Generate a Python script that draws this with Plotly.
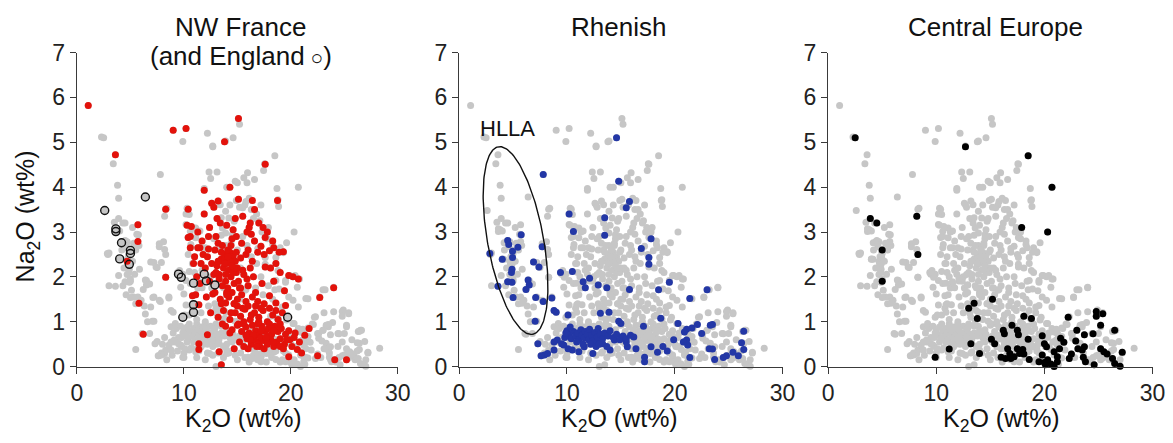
import numpy as np
import plotly.graph_objects as go

# ---------------- data (K2O wt%, Na2O wt%) ----------------
nw_france_k2o = [1.06, 3.6, 9.0, 10.2, 15.1, 13.8, 17.6, 14.3, 11.9, 8.3, 10.4, 5.7, 5.7, 4.7, 8.3, 5.8, 6.2,
    18.75, 15.1, 16.4, 12.6, 13.2, 24.0, 22.7, 20.7, 20.2, 19.8, 21.7, 21.3, 24.1, 25.2, 22.5, 19.8, 13.5, 13.3,
    11.4, 11.4, 12.2, 14.3, 14.7, 10.8, 11.4, 19.5, 19.4, 19.3,
    10.3, 10.7, 11.3, 12.4, 13.4, 14.0, 14.6, 16.1, 16.3, 17.0, 17.4, 17.8, 18.3,
    10.4, 11.7, 12.3, 13.2, 14.9, 15.4, 16.6, 16.9, 17.2, 17.6, 18.0, 18.4, 18.9, 10.6, 12.9,
    11.0, 11.8, 12.6, 13.1, 13.5, 13.8, 14.0, 14.3, 14.6, 14.8, 15.3, 15.8, 16.2, 17.6, 18.1, 13.7, 14.2, 12.2,
    11.2, 11.5, 12.8, 13.3, 13.9, 14.4, 14.7, 15.1, 15.6, 16.0, 16.5, 17.3, 18.4, 14.1, 13.6,
    11.1, 12.1, 12.7, 13.4, 13.9, 14.5, 15.0, 15.4, 15.8, 16.4, 16.9, 17.5, 18.0, 18.6, 14.2,
    12.5, 13.2, 13.7, 14.3, 14.8, 15.3, 15.7, 16.2, 16.6, 17.0, 17.4, 17.8, 18.3, 18.8, 19.2, 15.0, 16.0,
    13.9, 14.5, 15.0, 15.4, 15.8, 16.1, 16.4, 16.7, 17.0, 17.3, 17.6, 17.9, 18.2, 18.5, 18.8, 19.1, 19.5, 19.8, 16.9, 18.0,
    15.2, 15.6, 15.9, 16.3, 16.6, 17.1, 17.4, 17.8, 18.1, 18.4, 18.7, 19.0, 19.4, 20.1, 20.6, 21.0, 16.0, 17.0,
    10.9, 11.5, 12.0, 10.6, 11.9, 12.8, 13.1, 15.5, 16.6, 16.2,
    14.4, 14.9, 13.3, 14.0, 15.2, 16.7, 17.2, 17.7, 18.2, 16.4, 15.6, 14.7, 13.6, 16.9, 17.9, 19.0, 19.9, 20.4,
    13.0, 13.6, 14.1, 14.5, 15.0, 15.5, 16.0, 16.4, 13.3, 13.9, 14.6, 15.3, 15.9, 16.7, 14.0, 14.7, 15.5, 16.3,
    17.2, 18.0, 14.4, 13.5, 15.1, 15.6, 16.5, 17.2, 17.7, 18.4, 19.0, 19.6, 16.2, 16.8, 17.5, 18.3, 15.8, 17.0,
    18.6, 19.3, 20.3, 20.8, 12.9, 12.4, 11.6, 12.3, 11.3, 14.8, 15.9, 17.5, 18.6, 19.0,
    13.2, 13.8, 14.3, 14.7, 13.5, 14.1, 14.9, 13.0, 13.8, 14.5]
nw_france_na2o = [5.82, 4.72, 5.27, 5.31, 5.53, 5.01, 4.51, 4.0, 3.93, 3.51, 3.51, 3.16, 2.79, 2.35, 1.99, 1.41, 0.72,
    3.7, 3.73, 3.7, 3.64, 3.69, 1.76, 1.54, 1.95, 2.0, 2.03, 0.85, 0.7, 0.15, 0.15, 0.24, 0.22, 0.04, 0.33,
    0.38, 0.51, 0.71, 0.75, 0.40, 1.58, 1.38, 1.36, 1.69, 2.56,
    3.15, 3.12, 3.0, 3.1, 3.2, 3.15, 3.05, 3.1, 2.95, 3.2, 3.1, 3.0, 2.8,
    2.88, 2.8, 2.62, 2.75, 2.9, 2.75, 2.8, 2.55, 2.68, 2.88, 2.58, 2.65, 2.55, 2.65, 2.6,
    2.45, 2.5, 2.3, 2.25, 2.4, 2.5, 2.3, 2.55, 2.45, 2.35, 2.42, 2.5, 2.2, 2.22, 2.2, 2.2, 2.15, 2.45,
    2.0, 1.85, 2.05, 1.95, 1.9, 2.0, 1.85, 1.9, 2.05, 1.8, 2.0, 1.85, 1.9, 1.75, 1.8,
    1.6, 1.55, 1.62, 1.5, 1.42, 1.65, 1.5, 1.6, 1.45, 1.55, 1.45, 1.4, 1.58, 1.42, 1.55,
    1.2, 1.1, 1.25, 1.05, 1.2, 1.12, 1.28, 1.05, 1.2, 1.1, 1.25, 1.0, 1.15, 1.05, 1.2, 1.35, 1.35,
    0.9, 0.82, 0.92, 0.78, 0.88, 0.75, 0.92, 0.8, 0.7, 0.9, 0.78, 0.85, 0.72, 0.9, 0.78, 0.85, 0.72, 0.8, 0.95, 0.95,
    0.55, 0.45, 0.62, 0.5, 0.6, 0.45, 0.58, 0.5, 0.62, 0.45, 0.55, 0.62, 0.5, 0.45, 0.38, 0.3, 0.4, 0.55,
    2.3, 2.65, 2.2, 2.9, 3.4, 3.55, 3.3, 3.35, 3.5, 3.2,
    2.7, 2.1, 2.35, 1.65, 1.75, 1.35, 0.65, 0.62, 0.85, 0.68, 0.95, 1.4, 0.95, 0.5, 0.68, 0.45, 0.6, 0.75,
    2.9, 2.7, 2.6, 2.85, 2.2, 2.15, 2.6, 2.35, 2.05, 2.05, 2.1, 1.75, 1.95, 1.65, 1.6, 1.4, 1.3, 1.15,
    1.3, 1.3, 1.2, 1.4, 0.95, 1.0, 0.7, 0.8, 0.65, 0.8, 0.95, 0.6, 0.6, 0.45, 0.4, 0.55, 0.7, 1.0,
    1.25, 0.4, 0.65, 0.55, 1.65, 1.9, 2.3, 2.9, 2.65, 3.3, 3.0, 2.5, 2.3, 2.1,
    2.35, 2.4, 2.35, 2.2, 2.55, 2.45, 2.55, 2.1, 2.3, 2.25]

england_k2o = [2.6, 6.4, 3.64, 3.64, 4.17, 5.0, 5.0, 4.0, 4.9, 9.5, 9.75, 11.9, 12.1, 12.9, 10.9, 10.9, 10.9, 9.9, 19.7]
england_na2o = [3.48, 3.78, 3.07, 3.01, 2.76, 2.59, 2.52, 2.4, 2.28, 2.06, 1.99, 2.06, 1.91, 1.82, 1.86, 1.38, 1.21, 1.1, 1.1]

rhenish_k2o = [14.6, 7.8, 14.8, 15.8, 15.5, 10.2, 13.5, 10.6, 13.5, 17.8, 5.75, 16.9, 17.6, 17.6, 7.7, 4.5, 4.6, 5.45,
    2.85, 4.95, 4.0, 4.95, 6.9, 7.4, 4.9, 4.85, 4.5, 4.9, 6.4, 6.5, 3.6, 6.2, 5.0, 7.1, 7.8, 8.6, 7.05,
    9.4, 10.5, 11.5, 11.7, 12.1, 12.9, 13.7, 15.8, 19.5, 18.5, 23.0, 21.4, 8.8, 9.0, 10.1, 13.1, 13.9, 18.7,
    14.8, 15.0, 17.1, 20.3, 21.1, 20.9, 21.6, 22.1, 22.5, 23.5, 23.3, 26.4, 26.2, 26.4, 25.9, 25.4, 24.8, 23.7,
    23.5, 21.4, 21.1, 21.2, 20.8, 19.3, 18.4, 17.8, 17.2, 17.2, 16.4, 15.6, 15.5, 15.0, 14.4, 14.0, 13.3, 12.8,
    12.4, 11.6, 11.1, 10.5, 10.1, 9.7, 9.5, 9.1, 8.8, 8.2, 7.9, 7.6, 7.3, 8.8,
    10.0, 10.2, 10.4, 10.6, 10.8, 11.0, 11.1, 11.3, 11.4, 11.6, 11.7, 11.9, 12.0, 12.1, 12.3, 12.4, 12.6, 12.8,
    12.9, 13.1, 13.3, 13.5, 13.8, 14.0, 14.3, 14.6, 14.9, 15.2, 15.5, 15.9, 16.2, 10.3, 10.9, 11.5, 12.2, 12.7,
    13.0, 13.7, 9.8, 9.9, 23.2, 24.5, 19.9, 18.9]
rhenish_na2o = [5.1, 4.28, 4.13, 3.68, 3.54, 3.4, 3.32, 3.01, 2.93, 2.85, 2.94, 2.63, 2.43, 2.28, 2.67, 2.81, 2.72, 2.66,
    2.52, 2.57, 2.39, 2.43, 2.33, 2.22, 2.17, 2.10, 1.89, 1.88, 1.93, 1.82, 1.79, 1.72, 1.54, 1.54, 1.45, 1.53, 1.01,
    2.1, 2.12, 1.89, 1.76, 1.97, 1.82, 1.76, 1.72, 1.88, 1.71, 1.71, 1.52, 1.25, 1.21, 1.15, 1.19, 1.21, 1.08,
    1.01, 0.96, 0.9, 0.96, 0.83, 0.77, 0.86, 0.94, 0.74, 0.94, 0.92, 0.79, 0.53, 0.38, 0.24, 0.32, 0.24, 0.16,
    0.39, 0.2, 0.59, 0.48, 0.55, 0.35, 0.32, 0.44, 0.21, 0.11, 0.40, 0.44, 0.55, 0.63, 0.59, 0.37, 0.51, 0.55,
    0.29, 0.44, 0.33, 0.37, 0.40, 0.48, 0.51, 0.59, 0.37, 0.29, 0.26, 0.24, 0.51, 0.55,
    0.8, 0.7, 0.62, 0.78, 0.68, 0.75, 0.6, 0.82, 0.7, 0.64, 0.78, 0.72, 0.6, 0.83, 0.7, 0.58, 0.76, 0.66,
    0.85, 0.72, 0.62, 0.75, 0.68, 0.8, 0.65, 0.72, 0.6, 0.68, 0.62, 0.7, 0.66, 0.88, 0.55, 0.5, 0.5, 0.45,
    0.5, 0.45, 0.65, 0.75, 0.4, 0.2, 0.6, 0.45]

central_k2o = [2.5, 12.7, 18.5, 20.7, 3.9, 4.5, 8.2, 17.9, 20.3, 5.0, 8.3, 5.0, 15.2, 13.0, 13.5, 13.8, 18.1, 18.8,
    22.2, 24.8, 25.4, 24.8, 25.2, 17.0, 16.2, 17.5, 16.3, 17.6, 19.8, 23.0, 23.7, 24.5, 26.5, 18.5, 15.1, 15.4,
    13.2, 11.2, 14.0, 9.9, 20.0, 20.2, 21.5, 21.8, 21.4, 20.9, 22.9, 23.1, 23.5, 22.5, 22.3, 25.2, 25.5, 25.8,
    27.2, 26.3, 27.0, 26.5, 24.6, 23.8, 23.6, 16.0, 16.6, 16.8, 17.2, 17.7, 18.1, 18.6, 17.5, 18.0, 16.4, 16.9,
    19.8, 19.5, 20.0, 20.3, 20.6, 20.9, 21.2, 20.1, 21.2, 23.7]
central_na2o = [5.1, 4.9, 4.7, 4.0, 3.3, 3.2, 3.35, 3.1, 3.0, 2.6, 2.5, 1.9, 1.5, 1.3, 1.41, 1.07, 1.12, 1.07,
    1.1, 1.23, 1.18, 1.12, 0.92, 0.92, 0.81, 0.81, 0.73, 0.71, 0.69, 0.81, 0.71, 0.73, 0.81, 0.61, 0.61, 0.51,
    0.51, 0.39, 0.29, 0.21, 0.51, 0.44, 0.63, 0.54, 0.4, 0.33, 0.57, 0.40, 0.37, 0.28, 0.18, 0.40, 0.33, 0.28,
    0.32, 0.18, 0.01, 0.07, 0.04, 0.11, 0.21, 0.21, 0.4, 0.29, 0.22, 0.29, 0.28, 0.16, 0.40, 0.38, 0.18, 0.18,
    0.26, 0.11, 0.09, 0.15, 0.06, 0.0, 0.11, 0.04, 0.22, 0.44]

other_k2o = [3.4, 3.8, 3.9, 3.5, 3.8, 4.0, 4.4, 4.7, 4.6, 3.0, 4.15, 4.77, 3.9, 4.3, 3.0, 5.4, 5.85, 5.7, 5.5, 6.0,
    6.5, 6.8, 6.3, 6.9, 7.2, 7.7, 6.4, 7.2, 6.1, 6.8, 5.5, 7.5, 7.9, 8.3, 8.6, 7.65, 8.8, 9.2, 8.6, 7.9, 8.1, 8.4,
    7.2, 7.5, 7.7, 8.2, 8.3, 9.6, 9.9, 10.2, 9.7, 10.0, 10.2, 10.2, 10.5, 10.3, 11.1, 11.5, 11.1, 10.65,
    12.35, 12.5, 13.1, 11.9, 12.7, 13.4, 13.9, 14.2, 14.7, 13.6, 13.9, 14.5,
    9.9, 12.2, 12.7, 13.9, 15.2, 17.55, 17.45, 18.7, 18.8, 18.85, 15.0, 15.6, 15.95, 15.9, 16.6, 2.3,
    19.6, 19.3, 19.0, 18.6, 18.3, 17.7, 18.8, 19.9, 20.4, 20.8, 20.6, 21.6, 22.7, 23.2, 24.0, 22.3, 24.0, 24.9,
    25.4, 25.2, 25.0, 26.3, 26.6, 26.9, 26.4, 27.2, 28.3, 22.6, 23.0, 23.5, 24.4, 22.6, 23.3, 24.4, 23.6, 25.0,
    25.4, 26.0, 26.7, 19.6, 20.2, 20.7, 21.2, 21.6, 19.5, 20.4, 21.3, 21.9, 20.9, 21.6, 19.8, 20.2, 20.7, 18.9,
    19.5, 18.6, 19.2, 22.0, 23.9, 24.8, 25.7, 26.2, 27.0, 24.2, 22.8, 21.3, 20.0, 19.2, 23.1,
    9.0, 9.3, 9.5, 9.7, 9.8, 10.0, 10.3, 10.5, 10.7, 10.9, 11.2, 11.4, 11.6, 11.8, 12.0, 12.2, 12.5, 12.7, 13.0,
    13.2, 13.5, 13.7, 14.0, 14.2, 14.5, 14.8, 15.0, 15.3, 15.7, 16.1, 16.5, 16.9, 17.3, 17.7, 18.2, 18.6, 19.0,
    19.5, 10.0, 9.4, 8.9, 8.4, 9.1, 8.2, 8.0, 13.0, 11.2, 12.0,
    10.4, 10.8, 11.0, 10.6, 11.3, 11.0, 11.6, 11.2, 10.5, 10.8, 12.0, 12.3, 12.6, 12.9, 13.3, 13.6, 11.7, 12.5,
    12.0, 12.8, 13.4, 13.9, 14.4, 15.0, 15.5, 15.9, 16.3, 16.8, 17.2, 16.7, 17.4, 17.9, 18.3, 15.3, 15.7, 16.3,
    16.8, 15.7, 15.2, 16.1, 14.9, 17.1, 17.3, 16.5, 14.3, 14.0, 17.2,
    4.3, 5.2, 5.6, 5.3, 5.8, 4.8, 5.2, 4.4, 4.7, 5.0, 4.6, 5.1, 5.3, 4.2, 5.5, 2.9, 6.6]
other_na2o = [4.52, 4.04, 3.75, 3.22, 3.05, 3.02, 2.78, 2.78, 2.67, 2.53, 2.39, 2.28, 2.03, 1.8, 1.8, 2.06, 2.17, 1.55, 1.40, 1.48,
    1.92, 1.84, 1.35, 1.33, 1.55, 1.48, 1.17, 1.01, 0.74, 0.74, 0.38, 0.56, 0.30, 0.37, 0.48, 0.24, 0.89, 0.96, 1.55, 2.32, 2.78, 3.53,
    2.32, 2.21, 2.74, 2.61, 1.99, 2.14, 2.06, 1.92, 1.77, 1.62, 1.37, 3.17, 3.39, 3.53, 3.09, 3.02, 2.87, 2.72,
    4.34, 4.19, 4.34, 3.97, 3.61, 3.61, 3.46, 3.31, 3.24, 3.09, 2.98, 2.94,
    5.02, 5.2, 4.92, 5.03, 5.4, 4.52, 4.37, 3.97, 3.72, 3.57, 4.1, 4.21, 4.32, 4.1, 4.17, 5.12,
    2.76, 2.54, 2.65, 2.43, 2.72, 2.87, 2.14, 2.03, 2.03, 1.95, 1.77, 1.51, 1.55, 1.71, 1.77, 1.11, 1.22, 1.26,
    1.2, 0.89, 0.74, 0.78, 0.81, 0.56, 0.52, 0.30, 0.41, 0.74, 0.81, 0.89, 0.74, 0.63, 0.52, 0.45, 0.30, 0.26,
    0.19, 0.15, 0.04, 1.04, 0.96, 0.85, 0.74, 0.67, 0.56, 0.45, 0.52, 0.37, 0.26, 0.19, 1.55, 1.48, 1.33, 1.73,
    1.92, 1.92, 1.33, 0.95, 0.98, 0.55, 0.6, 0.35, 0.15, 0.1, 0.2, 0.05, 0.1, 0.15, 1.2,
    0.75, 0.85, 0.65, 0.9, 0.45, 0.3, 0.55, 0.95, 0.42, 0.85, 0.95, 0.35, 0.88, 0.5, 0.95, 0.3, 0.9, 0.25, 0.95,
    0.3, 0.9, 0.2, 0.5, 0.3, 0.55, 0.25, 0.15, 0.3, 0.2, 0.1, 0.25, 0.15, 0.3, 0.1, 0.2, 0.35, 0.1,
    0.3, 0.2, 0.35, 0.25, 0.15, 0.55, 0.65, 0.5, 0.0, 0.2, 0.15,
    2.5, 2.3, 2.1, 1.85, 1.75, 1.4, 1.2, 1.05, 1.15, 1.3, 1.0, 1.35, 1.75, 1.4, 1.3, 1.05, 2.15, 2.0,
    2.65, 2.85, 2.6, 2.7, 2.75, 2.6, 2.9, 2.7, 2.45, 2.3, 2.0, 1.75, 1.6, 1.8, 1.5, 2.2, 1.7, 3.5,
    3.4, 3.6, 3.55, 3.75, 3.7, 3.25, 3.0, 3.3, 3.6, 4.0, 3.6,
    3.2, 3.1, 2.95, 2.75, 2.7, 2.45, 2.35, 2.2, 2.05, 1.95, 1.6, 1.7, 1.55, 2.6, 2.6, 2.5, 1.0]

# ---------------- styling ----------------
GRAY = "#c6c6c6"
RED = "#e3120b"
BLUE = "#2337a6"
BLACK = "#000000"
FONT = "Liberation Sans, Arial, sans-serif"
AXC = "#3a3a3a"

all_k2o = other_k2o + nw_france_k2o + england_k2o + rhenish_k2o + central_k2o
all_na2o = other_na2o + nw_france_na2o + england_na2o + rhenish_na2o + central_na2o

# figure size and a calibration from target picture pixels to figure pixels
W, H = 1182, 447
SX, AX_ = 0.984, 5.1
SY, AY_ = 0.952, 9.3

def px(x):
    return ((x - AX_) / SX) / W

def py(y):
    return 1 - ((y - AY_) / SY) / H

xdom = [[px(76), px(397)], [px(458.3), px(781.7)], [px(827.3), px(1151.7)]]
ydom = [py(366.7), py(49.3)]

fig = go.Figure()
MS = 7

def dots(x, y, color, ax, ay):
    return go.Scatter(x=x, y=y, mode="markers", xaxis=ax, yaxis=ay, cliponaxis=False,
                      marker=dict(size=MS, color=color, line=dict(width=0)), hoverinfo="skip",
                      showlegend=False)

axes = [("x", "y"), ("x2", "y2"), ("x3", "y3")]
for ax, ay in axes:
    fig.add_trace(dots(all_k2o, all_na2o, GRAY, ax, ay))

fig.add_trace(dots(nw_france_k2o, nw_france_na2o, RED, "x", "y"))
fig.add_trace(go.Scatter(x=england_k2o, y=england_na2o, mode="markers", xaxis="x", yaxis="y",
                         cliponaxis=False, hoverinfo="skip", showlegend=False,
                         marker=dict(size=8, color="rgba(0,0,0,0)", line=dict(width=1.4, color="#111"))))
fig.add_trace(dots(rhenish_k2o, rhenish_na2o, BLUE, "x2", "y2"))
fig.add_trace(dots(central_k2o, central_na2o, BLACK, "x3", "y3"))

# HLLA ellipse (annotation shape in panel 2)
t = np.linspace(0, 2 * np.pi, 200)
cx, cy = 5.23, 2.81
ux, uy = 1.59, -2.09
vx, vy = 2.55, 0.11
ex = cx + ux * np.cos(t) + vx * np.sin(t)
ey = cy + uy * np.cos(t) + vy * np.sin(t)
fig.add_trace(go.Scatter(x=ex, y=ey, mode="lines", xaxis="x2", yaxis="y2", cliponaxis=False,
                         line=dict(color="#111", width=1.4), hoverinfo="skip", showlegend=False))

axis_common = dict(showline=True, linecolor=AXC, linewidth=1.3, ticks="outside", ticklen=6,
                   tickcolor=AXC, tickwidth=1.3, showgrid=False, zeroline=False,
                   tickfont=dict(family=FONT, size=23, color="#222"))
layout = dict(width=W, height=H, margin=dict(l=0, r=0, t=0, b=0), plot_bgcolor="white",
              paper_bgcolor="white", showlegend=False)
for i, (ax, ay) in enumerate(axes):
    xn = "xaxis" if i == 0 else f"xaxis{i+1}"
    yn = "yaxis" if i == 0 else f"yaxis{i+1}"
    layout[xn] = dict(axis_common, domain=xdom[i], range=[0, 30], tickvals=[0, 10, 20, 30],
                      anchor=ay)
    layout[yn] = dict(axis_common, domain=ydom, range=[0, 7], tickvals=list(range(8)),
                      anchor=ax)
fig.update_layout(**layout)

tf = dict(family=FONT, size=26, color="#111")
ann = [
    dict(text="NW France", x=px(240), y=py(23.5)),
    dict(text="(and England<span style='font-size:21px'> ○</span>)", x=px(240), y=py(53)),
    dict(text="Rhenish", x=px(617.5), y=py(23.5)),
    dict(text="Central Europe", x=px(995), y=py(23.5)),
]
for a in ann:
    fig.add_annotation(xref="paper", yref="paper", showarrow=False, font=tf,
                       xanchor="center", yanchor="middle", **a)
for cxp in [242.5, 619, 1001]:
    fig.add_annotation(xref="paper", yref="paper", showarrow=False,
                       font=dict(family=FONT, size=25, color="#111"),
                       x=px(cxp), y=py(421), xanchor="center", yanchor="middle",
                       text="K<sub>2</sub>O (wt%)")
fig.add_annotation(xref="paper", yref="paper", showarrow=False,
                   font=dict(family=FONT, size=25, color="#111"), textangle=-90,
                   x=px(26), y=py(215), xanchor="center", yanchor="middle",
                   text="Na<sub>2</sub>O (wt%)")
fig.add_annotation(xref="x2", yref="y2", x=4.5, y=5.3, showarrow=False, text="HLLA",
                   font=dict(family=FONT, size=22, color="#111"))

fig.write_html("out.html")
